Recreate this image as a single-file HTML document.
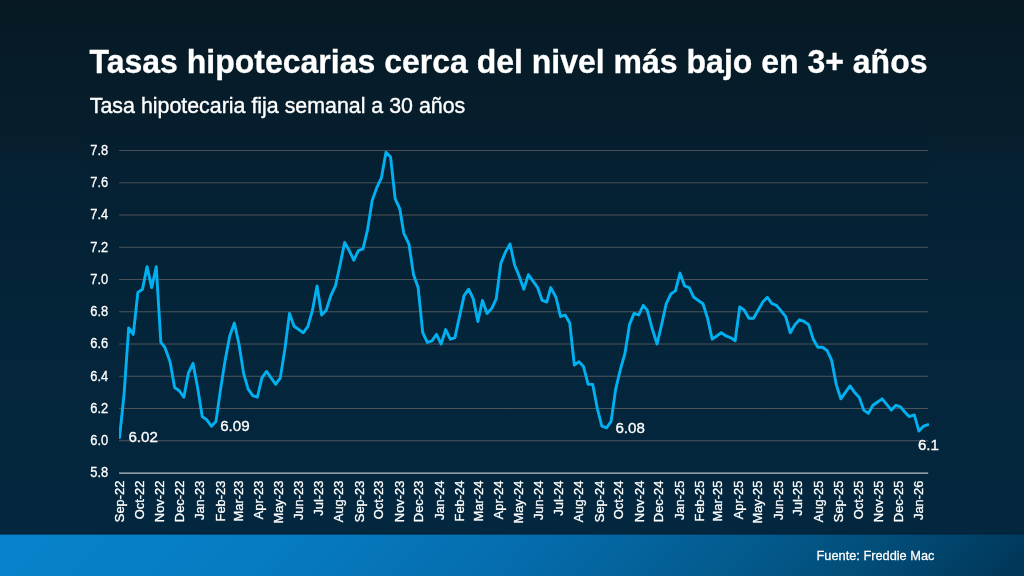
<!DOCTYPE html>
<html lang="es"><head><meta charset="utf-8"><title>Tasas hipotecarias</title>
<style>
html,body{margin:0;padding:0;background:#04263c;}
body{width:1024px;height:576px;overflow:hidden;position:relative;font-family:"Liberation Sans",Arial,Helvetica,sans-serif;}
svg{position:absolute;left:0;top:0;display:block}
text{font-family:"Liberation Sans",Arial,Helvetica,sans-serif;fill:#fff}
</style></head><body>
<svg width="1024" height="576" viewBox="0 0 1024 576">
<defs>
<linearGradient id="bg" x1="0" y1="0" x2="0" y2="534" gradientUnits="userSpaceOnUse">
<stop offset="0" stop-color="#061923"/>
<stop offset="0.137" stop-color="#061c29"/>
<stop offset="0.249" stop-color="#071e2d"/>
<stop offset="0.2846" stop-color="#071f2f"/>
<stop offset="0.2847" stop-color="#052033"/>
<stop offset="0.49" stop-color="#042337"/>
<stop offset="0.77" stop-color="#04263c"/>
<stop offset="1" stop-color="#03273f"/>
</linearGradient>
<linearGradient id="cbg" x1="0" y1="0" x2="0" y2="534" gradientUnits="userSpaceOnUse">
<stop offset="0" stop-color="#061923"/>
<stop offset="0.137" stop-color="#061c29"/>
<stop offset="0.249" stop-color="#061e2e"/>
<stop offset="0.31" stop-color="#052032"/>
<stop offset="0.49" stop-color="#042337"/>
<stop offset="0.77" stop-color="#04263c"/>
<stop offset="1" stop-color="#03273f"/>
</linearGradient>
<linearGradient id="ft" x1="0" y1="555" x2="512" y2="1067" gradientUnits="userSpaceOnUse">
<stop offset="0" stop-color="#0882cc"/>
<stop offset="0.25" stop-color="#067cc2"/>
<stop offset="0.5" stop-color="#056dae"/>
<stop offset="0.75" stop-color="#035889"/>
<stop offset="0.875" stop-color="#024a75"/>
<stop offset="1" stop-color="#01385a"/>
</linearGradient>
<clipPath id="plot"><rect x="119.1" y="140" width="809.8" height="340"/></clipPath>
</defs>
<rect x="0" y="0" width="1024" height="576" fill="url(#bg)"/>
<rect x="82" y="118" width="848" height="416" fill="url(#cbg)"/>
<rect x="0" y="533.3" width="1024" height="1.4" fill="#011d31" opacity="0.4"/>
<rect x="0" y="534.6" width="1024" height="41.4" fill="url(#ft)"/>

<text transform="translate(89.50,72.90) scale(0.979,1)" font-size="32.7" text-anchor="start" font-weight="700" stroke="#fff" stroke-width="0.3">Tasas hipotecarias cerca del nivel más bajo en 3+ años</text>
<text transform="translate(89.80,112.60) scale(0.934,1)" font-size="22.9" text-anchor="start" stroke="#fff" stroke-width="0.4">Tasa hipotecaria fija semanal a 30 años</text>
<line x1="119.1" x2="928.2" y1="150.55" y2="150.55" stroke="#666" stroke-width="0.75"/>
<line x1="119.1" x2="928.2" y1="182.80" y2="182.80" stroke="#666" stroke-width="0.75"/>
<line x1="119.1" x2="928.2" y1="215.04" y2="215.04" stroke="#666" stroke-width="0.75"/>
<line x1="119.1" x2="928.2" y1="247.28" y2="247.28" stroke="#666" stroke-width="0.75"/>
<line x1="119.1" x2="928.2" y1="279.53" y2="279.53" stroke="#666" stroke-width="0.75"/>
<line x1="119.1" x2="928.2" y1="311.77" y2="311.77" stroke="#666" stroke-width="0.75"/>
<line x1="119.1" x2="928.2" y1="344.02" y2="344.02" stroke="#666" stroke-width="0.75"/>
<line x1="119.1" x2="928.2" y1="376.26" y2="376.26" stroke="#666" stroke-width="0.75"/>
<line x1="119.1" x2="928.2" y1="408.51" y2="408.51" stroke="#666" stroke-width="0.75"/>
<line x1="119.1" x2="928.2" y1="440.75" y2="440.75" stroke="#666" stroke-width="0.75"/>
<line x1="119.1" x2="928.2" y1="473.15" y2="473.15" stroke="#b9c0c6" stroke-width="1.35"/>
<text transform="translate(108.30,155.00) scale(0.89,1)" font-size="14.5" text-anchor="end" stroke="#fff" stroke-width="0.3">7.8</text>
<text transform="translate(108.30,187.25) scale(0.89,1)" font-size="14.5" text-anchor="end" stroke="#fff" stroke-width="0.3">7.6</text>
<text transform="translate(108.30,219.49) scale(0.89,1)" font-size="14.5" text-anchor="end" stroke="#fff" stroke-width="0.3">7.4</text>
<text transform="translate(108.30,251.73) scale(0.89,1)" font-size="14.5" text-anchor="end" stroke="#fff" stroke-width="0.3">7.2</text>
<text transform="translate(108.30,283.98) scale(0.89,1)" font-size="14.5" text-anchor="end" stroke="#fff" stroke-width="0.3">7.0</text>
<text transform="translate(108.30,316.22) scale(0.89,1)" font-size="14.5" text-anchor="end" stroke="#fff" stroke-width="0.3">6.8</text>
<text transform="translate(108.30,348.47) scale(0.89,1)" font-size="14.5" text-anchor="end" stroke="#fff" stroke-width="0.3">6.6</text>
<text transform="translate(108.30,380.71) scale(0.89,1)" font-size="14.5" text-anchor="end" stroke="#fff" stroke-width="0.3">6.4</text>
<text transform="translate(108.30,412.96) scale(0.89,1)" font-size="14.5" text-anchor="end" stroke="#fff" stroke-width="0.3">6.2</text>
<text transform="translate(108.30,445.20) scale(0.89,1)" font-size="14.5" text-anchor="end" stroke="#fff" stroke-width="0.3">6.0</text>
<text transform="translate(108.30,477.45) scale(0.89,1)" font-size="14.5" text-anchor="end" stroke="#fff" stroke-width="0.3">5.8</text>
<text transform="translate(124.20,480.60) rotate(-90) scale(0.942,1)" font-size="13.7" text-anchor="end" stroke="#fff" stroke-width="0.3">Sep-22</text>
<text transform="translate(143.88,480.60) rotate(-90) scale(0.942,1)" font-size="13.7" text-anchor="end" stroke="#fff" stroke-width="0.3">Oct-22</text>
<text transform="translate(164.21,480.60) rotate(-90) scale(0.942,1)" font-size="13.7" text-anchor="end" stroke="#fff" stroke-width="0.3">Nov-22</text>
<text transform="translate(183.89,480.60) rotate(-90) scale(0.942,1)" font-size="13.7" text-anchor="end" stroke="#fff" stroke-width="0.3">Dec-22</text>
<text transform="translate(204.22,480.60) rotate(-90) scale(0.942,1)" font-size="13.7" text-anchor="end" stroke="#fff" stroke-width="0.3">Jan-23</text>
<text transform="translate(224.56,480.60) rotate(-90) scale(0.942,1)" font-size="13.7" text-anchor="end" stroke="#fff" stroke-width="0.3">Feb-23</text>
<text transform="translate(242.92,480.60) rotate(-90) scale(0.942,1)" font-size="13.7" text-anchor="end" stroke="#fff" stroke-width="0.3">Mar-23</text>
<text transform="translate(263.26,480.60) rotate(-90) scale(0.942,1)" font-size="13.7" text-anchor="end" stroke="#fff" stroke-width="0.3">Apr-23</text>
<text transform="translate(282.93,480.60) rotate(-90) scale(0.942,1)" font-size="13.7" text-anchor="end" stroke="#fff" stroke-width="0.3">May-23</text>
<text transform="translate(303.27,480.60) rotate(-90) scale(0.942,1)" font-size="13.7" text-anchor="end" stroke="#fff" stroke-width="0.3">Jun-23</text>
<text transform="translate(322.95,480.60) rotate(-90) scale(0.942,1)" font-size="13.7" text-anchor="end" stroke="#fff" stroke-width="0.3">Jul-23</text>
<text transform="translate(343.28,480.60) rotate(-90) scale(0.942,1)" font-size="13.7" text-anchor="end" stroke="#fff" stroke-width="0.3">Aug-23</text>
<text transform="translate(363.61,480.60) rotate(-90) scale(0.942,1)" font-size="13.7" text-anchor="end" stroke="#fff" stroke-width="0.3">Sep-23</text>
<text transform="translate(383.29,480.60) rotate(-90) scale(0.942,1)" font-size="13.7" text-anchor="end" stroke="#fff" stroke-width="0.3">Oct-23</text>
<text transform="translate(403.62,480.60) rotate(-90) scale(0.942,1)" font-size="13.7" text-anchor="end" stroke="#fff" stroke-width="0.3">Nov-23</text>
<text transform="translate(423.30,480.60) rotate(-90) scale(0.942,1)" font-size="13.7" text-anchor="end" stroke="#fff" stroke-width="0.3">Dec-23</text>
<text transform="translate(443.64,480.60) rotate(-90) scale(0.942,1)" font-size="13.7" text-anchor="end" stroke="#fff" stroke-width="0.3">Jan-24</text>
<text transform="translate(463.97,480.60) rotate(-90) scale(0.942,1)" font-size="13.7" text-anchor="end" stroke="#fff" stroke-width="0.3">Feb-24</text>
<text transform="translate(482.99,480.60) rotate(-90) scale(0.942,1)" font-size="13.7" text-anchor="end" stroke="#fff" stroke-width="0.3">Mar-24</text>
<text transform="translate(503.32,480.60) rotate(-90) scale(0.942,1)" font-size="13.7" text-anchor="end" stroke="#fff" stroke-width="0.3">Apr-24</text>
<text transform="translate(523.00,480.60) rotate(-90) scale(0.942,1)" font-size="13.7" text-anchor="end" stroke="#fff" stroke-width="0.3">May-24</text>
<text transform="translate(543.34,480.60) rotate(-90) scale(0.942,1)" font-size="13.7" text-anchor="end" stroke="#fff" stroke-width="0.3">Jun-24</text>
<text transform="translate(563.01,480.60) rotate(-90) scale(0.942,1)" font-size="13.7" text-anchor="end" stroke="#fff" stroke-width="0.3">Jul-24</text>
<text transform="translate(583.35,480.60) rotate(-90) scale(0.942,1)" font-size="13.7" text-anchor="end" stroke="#fff" stroke-width="0.3">Aug-24</text>
<text transform="translate(603.68,480.60) rotate(-90) scale(0.942,1)" font-size="13.7" text-anchor="end" stroke="#fff" stroke-width="0.3">Sep-24</text>
<text transform="translate(623.36,480.60) rotate(-90) scale(0.942,1)" font-size="13.7" text-anchor="end" stroke="#fff" stroke-width="0.3">Oct-24</text>
<text transform="translate(643.69,480.60) rotate(-90) scale(0.942,1)" font-size="13.7" text-anchor="end" stroke="#fff" stroke-width="0.3">Nov-24</text>
<text transform="translate(663.37,480.60) rotate(-90) scale(0.942,1)" font-size="13.7" text-anchor="end" stroke="#fff" stroke-width="0.3">Dec-24</text>
<text transform="translate(683.70,480.60) rotate(-90) scale(0.942,1)" font-size="13.7" text-anchor="end" stroke="#fff" stroke-width="0.3">Jan-25</text>
<text transform="translate(704.04,480.60) rotate(-90) scale(0.942,1)" font-size="13.7" text-anchor="end" stroke="#fff" stroke-width="0.3">Feb-25</text>
<text transform="translate(722.40,480.60) rotate(-90) scale(0.942,1)" font-size="13.7" text-anchor="end" stroke="#fff" stroke-width="0.3">Mar-25</text>
<text transform="translate(742.74,480.60) rotate(-90) scale(0.942,1)" font-size="13.7" text-anchor="end" stroke="#fff" stroke-width="0.3">Apr-25</text>
<text transform="translate(762.42,480.60) rotate(-90) scale(0.942,1)" font-size="13.7" text-anchor="end" stroke="#fff" stroke-width="0.3">May-25</text>
<text transform="translate(782.75,480.60) rotate(-90) scale(0.942,1)" font-size="13.7" text-anchor="end" stroke="#fff" stroke-width="0.3">Jun-25</text>
<text transform="translate(802.43,480.60) rotate(-90) scale(0.942,1)" font-size="13.7" text-anchor="end" stroke="#fff" stroke-width="0.3">Jul-25</text>
<text transform="translate(822.76,480.60) rotate(-90) scale(0.942,1)" font-size="13.7" text-anchor="end" stroke="#fff" stroke-width="0.3">Aug-25</text>
<text transform="translate(843.09,480.60) rotate(-90) scale(0.942,1)" font-size="13.7" text-anchor="end" stroke="#fff" stroke-width="0.3">Sep-25</text>
<text transform="translate(862.77,480.60) rotate(-90) scale(0.942,1)" font-size="13.7" text-anchor="end" stroke="#fff" stroke-width="0.3">Oct-25</text>
<text transform="translate(883.11,480.60) rotate(-90) scale(0.942,1)" font-size="13.7" text-anchor="end" stroke="#fff" stroke-width="0.3">Nov-25</text>
<text transform="translate(902.78,480.60) rotate(-90) scale(0.942,1)" font-size="13.7" text-anchor="end" stroke="#fff" stroke-width="0.3">Dec-25</text>
<text transform="translate(923.12,480.60) rotate(-90) scale(0.942,1)" font-size="13.7" text-anchor="end" stroke="#fff" stroke-width="0.3">Jan-26</text>
<path d="M119.50,437.53 L124.09,394.00 L128.69,327.90 L133.28,334.35 L137.88,292.43 L142.47,289.20 L147.07,266.63 L151.66,287.59 L156.25,266.63 L160.85,342.41 L164.79,347.24 L170.04,361.75 L174.63,387.55 L179.23,390.78 L183.82,397.22 L188.41,373.04 L193.01,363.37 L197.60,387.55 L202.20,416.57 L206.79,419.80 L211.39,426.24 L215.98,421.41 L220.57,389.16 L225.17,360.14 L229.76,335.96 L234.36,323.06 L238.95,344.02 L243.55,373.04 L248.14,389.16 L252.74,395.61 L257.33,397.22 L261.92,377.88 L266.52,371.43 L271.11,377.88 L275.71,384.33 L280.30,377.88 L284.90,348.86 L289.49,313.39 L294.08,326.29 L298.68,329.51 L303.27,332.73 L307.87,326.29 L312.46,310.16 L317.06,285.98 L321.65,315.00 L326.24,310.16 L330.84,295.65 L335.43,285.98 L340.03,265.02 L344.62,242.45 L349.22,250.51 L353.81,260.18 L358.40,250.51 L363.00,248.90 L367.59,229.55 L372.19,200.53 L376.78,187.63 L381.38,177.96 L385.97,152.16 L390.56,157.00 L395.16,198.92 L399.75,208.59 L403.69,232.77 L408.94,244.06 L413.54,274.69 L418.13,287.59 L422.73,332.73 L427.32,342.41 L431.91,340.80 L436.51,334.35 L441.10,344.02 L445.70,329.51 L450.29,339.18 L454.89,337.57 L459.48,316.61 L464.07,295.65 L468.67,289.20 L473.26,298.88 L477.86,321.45 L482.45,300.49 L487.05,313.39 L491.64,308.55 L496.23,298.88 L500.83,263.41 L505.42,252.12 L510.02,244.06 L514.61,265.02 L519.21,276.31 L523.80,289.20 L528.39,274.69 L532.99,281.14 L537.58,287.59 L542.18,300.49 L546.77,302.10 L550.71,287.59 L555.96,297.26 L560.55,316.61 L565.15,315.00 L569.74,323.06 L574.34,364.98 L578.93,361.75 L583.53,366.59 L588.12,384.33 L592.71,384.33 L597.31,408.51 L601.90,426.24 L606.50,427.86 L611.09,421.41 L615.69,389.16 L620.28,369.82 L624.88,353.69 L629.47,324.67 L634.06,313.39 L638.66,315.00 L643.25,305.33 L647.19,310.16 L652.44,329.51 L657.04,344.02 L661.63,324.67 L666.22,303.71 L670.82,294.04 L675.41,290.82 L680.01,273.08 L684.60,285.98 L689.20,287.59 L693.79,297.26 L698.38,300.49 L702.98,303.71 L707.57,318.22 L712.17,339.18 L716.76,335.96 L721.36,332.73 L725.95,335.96 L730.54,337.57 L735.14,340.80 L739.73,306.94 L744.33,310.16 L748.92,318.22 L753.52,318.22 L758.11,310.16 L762.70,302.10 L767.30,297.26 L771.89,303.71 L776.49,305.33 L780.43,310.16 L785.68,316.61 L790.27,332.73 L794.86,324.67 L799.46,319.84 L804.05,321.45 L808.65,324.67 L813.24,339.18 L817.84,347.24 L822.43,347.24 L827.02,350.47 L831.62,360.14 L836.21,384.33 L840.81,398.84 L845.40,392.39 L850.00,385.94 L854.59,392.39 L859.19,397.22 L863.78,410.12 L868.37,413.35 L872.97,405.29 L877.56,402.06 L882.16,398.84 L886.09,403.67 L891.35,410.12 L895.94,405.29 L900.53,406.90 L904.47,411.73 L909.07,416.57 L914.32,414.96 L918.91,431.08 L923.51,426.24 L928.10,424.63" fill="none" stroke="#00b0f0" stroke-width="2.9" stroke-linejoin="round" stroke-linecap="round" clip-path="url(#plot)"/>
<text transform="translate(128.40,442.40) scale(0.99,1)" font-size="15.3" text-anchor="start" stroke="#fff" stroke-width="0.3">6.02</text>
<text transform="translate(220.20,431.30) scale(0.99,1)" font-size="15.3" text-anchor="start" stroke="#fff" stroke-width="0.3">6.09</text>
<text transform="translate(615.40,433.00) scale(0.99,1)" font-size="15.3" text-anchor="start" stroke="#fff" stroke-width="0.3">6.08</text>
<text transform="translate(917.90,450.10) scale(0.99,1)" font-size="15.3" text-anchor="start" stroke="#fff" stroke-width="0.3">6.1</text>
<text transform="translate(816.50,560.10) scale(0.941,1)" font-size="13.6" text-anchor="start" stroke="#fff" stroke-width="0.25">Fuente: Freddie Mac</text>
</svg></body></html>
